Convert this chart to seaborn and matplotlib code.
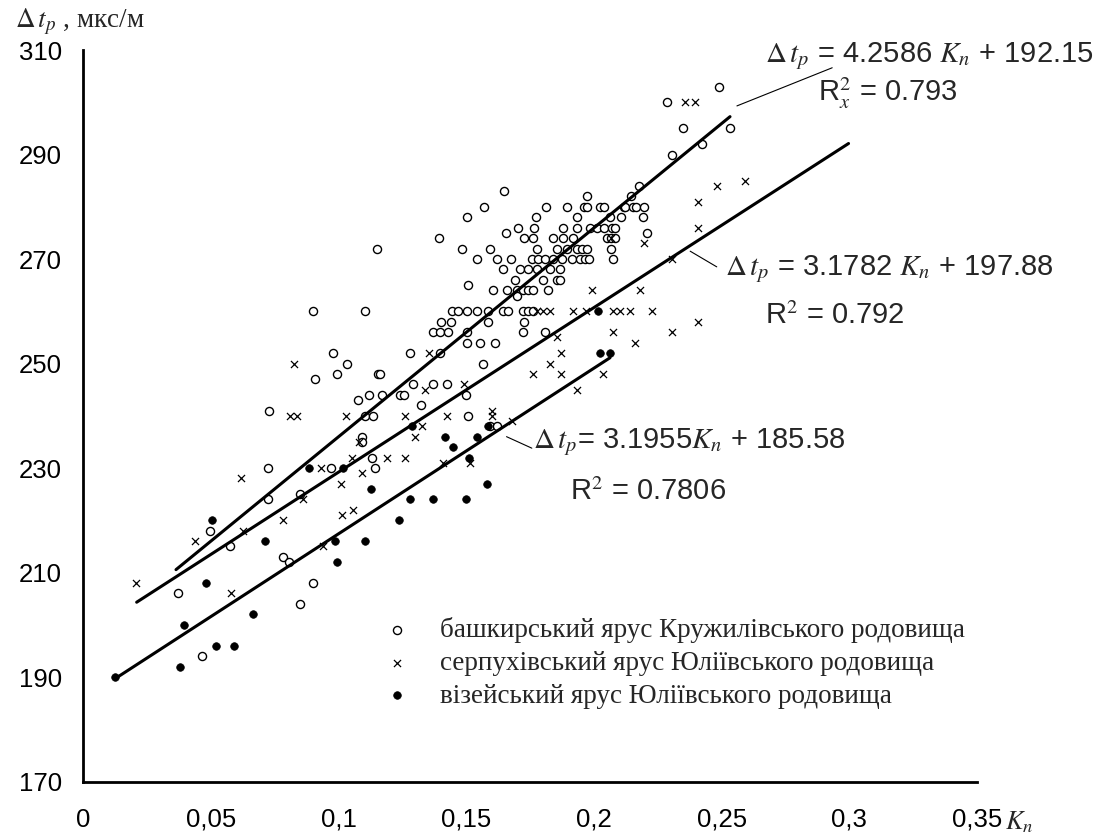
import numpy as np
import pandas as pd
import matplotlib
matplotlib.use("Agg")
import matplotlib.pyplot as plt
import seaborn as sns

# ---------------- data ----------------
bash_x = [0.0373,0.0465,0.0497,0.0576,0.0726,0.0726,0.0728,0.0782,0.0808,0.085,0.085,0.0902,0.0902,0.0908,0.097,0.098,0.0993,0.1032,0.1078,0.1091,0.1091,0.1102,0.1104,0.1121,0.113,0.1137,0.1143,0.115,0.1154,0.1163,0.117,0.1241,0.1257,0.128,0.1293,0.1322,0.1372,0.1372,0.1395,0.1398,0.1398,0.14,0.1424,0.143,0.1441,0.1443,0.1469,0.1485,0.1498,0.1502,0.1502,0.1505,0.1505,0.1506,0.1509,0.1541,0.1541,0.1554,0.1565,0.1571,0.1587,0.1587,0.1594,0.1594,0.1607,0.1613,0.162,0.162,0.1646,0.1646,0.165,0.1656,0.1659,0.1665,0.1674,0.1691,0.1698,0.1698,0.1702,0.1711,0.1721,0.1724,0.1724,0.1727,0.1728,0.1743,0.1743,0.1743,0.1757,0.1761,0.1763,0.1763,0.1766,0.1772,0.1776,0.1776,0.1782,0.1802,0.1809,0.1809,0.1811,0.1822,0.1828,0.1839,0.1841,0.1854,0.1854,0.1868,0.1868,0.1874,0.1878,0.1881,0.1894,0.1894,0.1914,0.192,0.1933,0.1933,0.1933,0.1946,0.1953,0.1962,0.1966,0.1972,0.1975,0.1975,0.1979,0.1985,0.2011,0.2024,0.204,0.204,0.205,0.2063,0.2067,0.2067,0.2072,0.2074,0.2083,0.2083,0.2105,0.2116,0.2122,0.2146,0.2155,0.2164,0.2177,0.2194,0.2197,0.2207,0.2285,0.2305,0.2348,0.2425,0.2491,0.2531]
bash_y = [206,194,218,215,224,230,241,213,212,204,225,208,260,247,230,252,248,250,243,236,235,260,240,244,232,240,230,272,248,248,244,244,244,252,246,242,246,256,274,256,252,258,246,256,258,260,260,272,244,256,254,278,260,265,240,260,270,254,250,280,258,260,272,238,264,254,270,238,260,268,283,275,264,260,270,266,264,263,276,268,256,260,264,258,274,260,264,268,270,274,260,264,276,278,272,268,270,266,270,256,280,264,268,274,270,272,266,268,266,270,276,274,280,272,270,274,278,276,272,270,272,280,270,272,282,280,270,276,276,280,280,276,274,278,272,274,276,270,276,274,278,280,280,282,280,280,284,278,280,275,300,290,295,292,303,295]

serp_x = [0.0208,0.0439,0.058,0.0619,0.0625,0.0782,0.081,0.0826,0.0837,0.086,0.093,0.0938,0.101,0.1013,0.1029,0.1054,0.1058,0.108,0.1091,0.1189,0.126,0.126,0.13,0.1326,0.1339,0.1355,0.1408,0.1424,0.149,0.1515,0.16,0.16,0.1678,0.1763,0.1776,0.18,0.1828,0.1828,0.1854,0.1872,0.1872,0.192,0.1933,0.197,0.1992,0.2034,0.2067,0.2076,0.2076,0.2103,0.2142,0.2161,0.2181,0.2197,0.2227,0.2305,0.2305,0.2357,0.2396,0.2409,0.2409,0.2409,0.2481,0.2592]
serp_y = [208,216,206,228,218,220,240,250,240,224,230,215,227,221,240,232,222,235,229,232,240,232,236,238,245,252,231,240,246,231,241,240,239,248,260,260,260,250,255,252,248,260,245,260,264,248,274,260,256,260,260,254,264,273,260,256,270,300,300,258,276,281,284,285]

vize_x = [0.0125,0.038,0.0395,0.048,0.0505,0.052,0.059,0.0666,0.0713,0.0884,0.0987,0.0993,0.1017,0.1105,0.1126,0.1238,0.128,0.1287,0.1369,0.1417,0.145,0.15,0.1512,0.1541,0.1583,0.1587,0.2015,0.2025,0.2063]
vize_y = [190,192,200,208,220,196,196,202,216,230,216,212,230,216,226,220,224,238,224,236,234,224,232,236,227,238,260,252,252]

# drawn trend lines (as they appear on the chart)
line_start = [0.0364, 0.021, 0.0138]
line_end = [0.2533, 0.2997, 0.2063]
line_slope = [399.7, 315.0, 317.0]
line_icpt = [196.0, 197.7, 185.7]

eq_texts = [r"$\Delta\, t_p$ = 4.2586 $K_n$ + 192.15",
            r"$\Delta\, t_p$ = 3.1782 $K_n$ + 197.88",
            r"$\Delta\, t_p$= 3.1955$K_n$ + 185.58"]
r2_texts = [r"R$^2_{x}$ = 0.793", r"R$^2$ = 0.792", r"R$^2$ = 0.7806"]

series_names = ["башкирський ярус Кружилівського родовища",
                "серпухівський ярус Юліївського родовища",
                "візейський ярус Юліївського родовища"]

x_ticks = [0, 0.05, 0.1, 0.15, 0.2, 0.25, 0.3, 0.35]
x_tick_labels = ["0", "0,05", "0,1", "0,15", "0,2", "0,25", "0,3", "0,35"]
y_ticks = [170, 190, 210, 230, 250, 270, 290, 310]

# ---------------- style ----------------
sns.set_style("white")
plt.rcParams["font.family"] = ["Liberation Sans", "DejaVu Sans"]
plt.rcParams["mathtext.fontset"] = "stix"

fig = plt.figure(figsize=(11.01, 8.39), dpi=100)
ax = fig.add_axes([0.0754, 0.0685, 0.8120, 0.8719])

df1 = pd.DataFrame({"x": bash_x, "y": bash_y})
df2 = pd.DataFrame({"x": serp_x, "y": serp_y})
df3 = pd.DataFrame({"x": vize_x, "y": vize_y})

sns.scatterplot(data=df1, x="x", y="y", ax=ax, marker="o", s=34,
                facecolor="white", edgecolor="black", linewidth=1.0,
                label=series_names[0], zorder=3)
sns.scatterplot(data=df2, x="x", y="y", ax=ax, marker="x", s=26,
                color="black", linewidth=0.9, label=series_names[1], zorder=3)
sns.scatterplot(data=df3, x="x", y="y", ax=ax, marker="o", s=30,
                color="black", edgecolor="black", linewidth=0.5,
                label=series_names[2], zorder=3)

for xs, xe, k, b in zip(line_start, line_end, line_slope, line_icpt):
    lx = np.array([xs, xe])
    sns.lineplot(x=lx, y=b + k * lx, ax=ax, color="black", lw=2.2, zorder=4)

# leader lines for annotations
leaders = [([0.256, 0.2933], [299.3, 306.6]),
           ([0.2377, 0.2481], [271.5, 268.5]),
           ([0.1658, 0.1757], [236.0, 233.8])]
for lx, ly in leaders:
    ax.plot(lx, ly, color="black", lw=0.8, zorder=4, clip_on=False)

eq_pos = [(0.2670, 308.9), (0.2514, 268.1), (0.1762, 235.0)]
r2_pos = [(0.2878, 301.8), (0.2670, 259.1), (0.1907, 225.5)]
for t, (x, y) in zip(eq_texts, eq_pos):
    ax.text(x, y, t, fontsize=21, ha="left", va="center", clip_on=False)
for t, (x, y) in zip(r2_texts, r2_pos):
    ax.text(x, y, t, fontsize=21, ha="left", va="center", clip_on=False)

ax.set_xlim(0, 0.35)
ax.set_ylim(170, 310)
ax.set_xticks(x_ticks)
ax.set_xticklabels(x_tick_labels)
ax.set_yticks(y_ticks)
ax.set_xlabel("")
ax.set_ylabel("")
for s in ["top", "right"]:
    ax.spines[s].set_visible(False)
for s in ["left", "bottom"]:
    ax.spines[s].set_linewidth(2.0)
    ax.spines[s].set_color("black")
ax.tick_params(axis="both", direction="in", length=6, width=1.8,
               labelsize=18.5, colors="black")
ax.tick_params(axis="x", pad=19)
ax.tick_params(axis="y", pad=15)

leg = ax.legend(loc="upper left", bbox_to_anchor=(0.2936, 0.2577), frameon=False,
                prop={"family": "Liberation Serif", "size": 19.5},
                handlelength=2.0, handletextpad=0.6, labelspacing=0.28,
                markerscale=1.0)

fig.text(15 / 1101, 1 - 22 / 839, r"$\Delta\, t_p$ , мкс/м", fontsize=19.5,
         family="Liberation Serif", ha="left", va="center")
fig.text(0.9125, 0.0205, r"$K_n$", fontsize=19, ha="left", va="center")

fig.savefig("out.png", dpi=100)
